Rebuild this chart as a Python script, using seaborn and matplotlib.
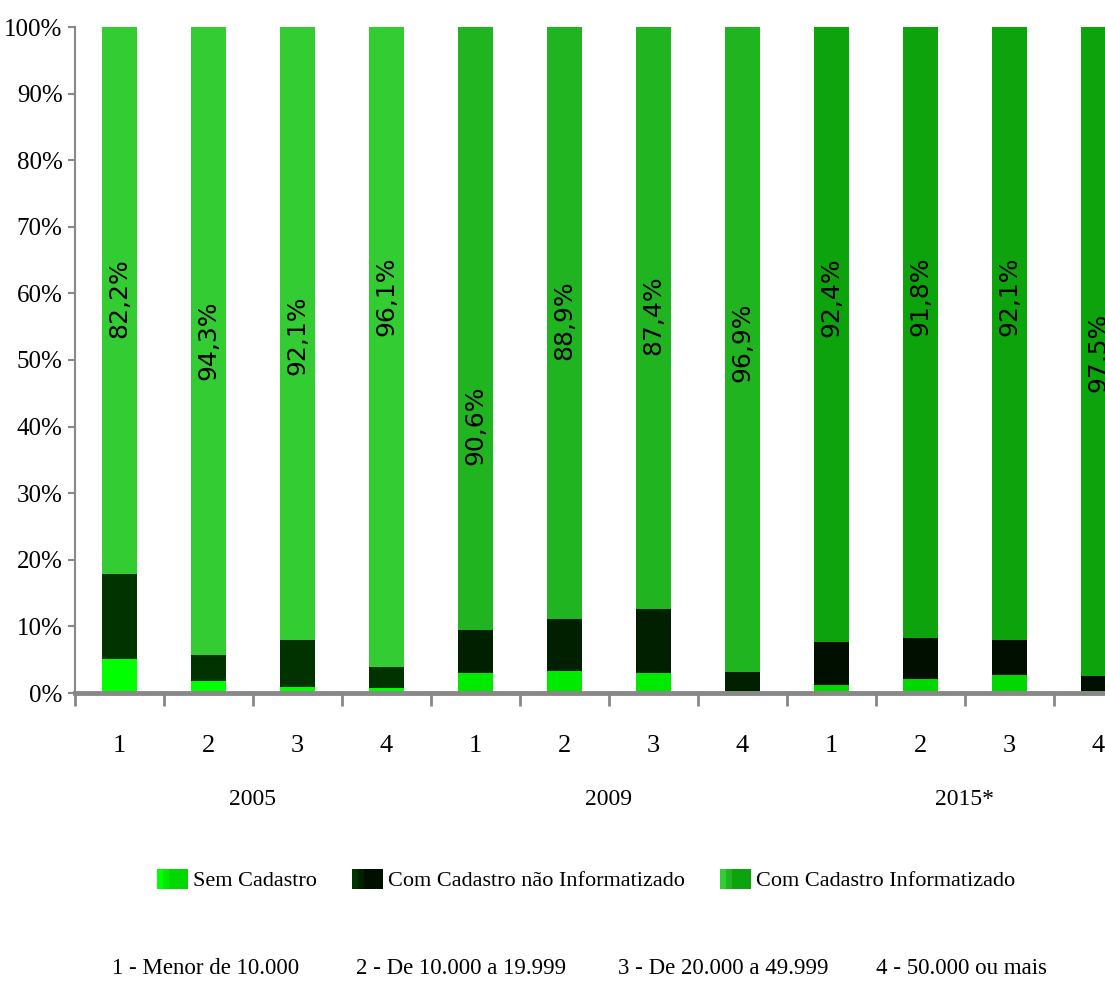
import matplotlib
matplotlib.use("Agg")
import matplotlib.pyplot as plt
import matplotlib.patches as mpatches
from matplotlib.legend_handler import HandlerTuple
import seaborn as sns
import pandas as pd
import numpy as np

# ---------------- data ----------------
years = ["2005", "2009", "2015*"]
classes = ["1", "2", "3", "4"]
class_legend = ["1 - Menor de 10.000", "2 - De 10.000 a 19.999",
                "3 - De 20.000 a 49.999", "4 - 50.000 ou mais"]
series_names = ["Sem Cadastro", "Com Cadastro não Informatizado", "Com Cadastro Informatizado"]

sem_cadastro = [5.1, 1.8, 0.9, 0.8, 3.0, 3.3, 3.0, 0.3, 1.2, 2.1, 2.7, 0.3]
nao_informatizado = [12.7, 3.9, 7.0, 3.1, 6.4, 7.8, 9.6, 2.8, 6.4, 6.1, 5.2, 2.2]
informatizado = [82.2, 94.3, 92.1, 96.1, 90.6, 88.9, 87.4, 96.9, 92.4, 91.8, 92.1, 97.5]

# label vertical centres (in % units) as placed in the original
label_y = [59.3, 53.0, 53.7, 59.5, 40.2, 56.0, 56.8, 52.7, 59.5, 59.5, 59.5, 51.2]

# ---------------- styling ----------------
col_sem = {"2005": "#00ff00", "2009": "#00ea00", "2015*": "#00d800"}
col_nao = {"2005": "#003300", "2009": "#002000", "2015*": "#000f00"}
col_inf = {"2005": "#33cc33", "2009": "#20b520", "2015*": "#0ca30c"}

sns.set_theme(style="white")
plt.rcParams["font.family"] = ["Liberation Serif", "DejaVu Serif"]
plt.rcParams["text.color"] = "black"
plt.rcParams["xtick.labelcolor"] = "black"
plt.rcParams["ytick.labelcolor"] = "black"

W, H = 1105, 984
fig = plt.figure(figsize=(W / 100, H / 100), dpi=100)
ax = fig.add_axes([75 / W, 1 - 693 / H, 1068 / W, 666 / H])

n = len(sem_cadastro)
year_col = [y for y in years for _ in classes]
pos = list(range(n))
df = pd.DataFrame({
    "pos": pos,
    "year": year_col,
    "sem": sem_cadastro,
    "nao": nao_informatizado,
    "inf": informatizado,
})
df["top1"] = df["sem"]
df["top2"] = df["sem"] + df["nao"]
df["top3"] = df["sem"] + df["nao"] + df["inf"]

bw = 0.39
for col, pal in [("top3", col_inf), ("top2", col_nao), ("top1", col_sem)]:
    sns.barplot(data=df, x="pos", y=col, hue="year", palette=pal, dodge=False,
                width=bw, linewidth=0, saturation=1, legend=False, ax=ax, zorder=2)

# value labels
for i, v in enumerate(informatizado):
    ax.text(i, label_y[i], f"{v:.1f}%".replace(".", ","), rotation=90,
            ha="center", va="center", fontsize=18, family="DejaVu Sans",
            color="black", zorder=5)

ax.set_xlim(-0.5, n - 0.5)
ax.set_ylim(0, 100)
ax.set_xlabel("")
ax.set_ylabel("")

yt = np.arange(0, 101, 10)
ax.set_yticks(yt)
ax.set_yticklabels([f"{t}%" for t in yt], fontsize=18)
ax.tick_params(axis="y", which="major", direction="out", length=5, width=1.5,
               color="#888888", pad=4, left=True, labelcolor="black")

ax.set_xticks(pos)
ax.set_xticklabels(classes * len(years), fontsize=19)
ax.tick_params(axis="x", which="major", length=0, pad=30, labelcolor="black")
ax.set_xticks(np.arange(-0.5, n, 1.0), minor=True)
ax.tick_params(axis="x", which="minor", direction="out", length=9, width=2,
               color="#888888", bottom=True)

for s in ["top", "right"]:
    ax.spines[s].set_visible(False)
ax.spines["left"].set_color("#888888")
ax.spines["left"].set_linewidth(1.5)
ax.spines["bottom"].set_color("#888888")
ax.spines["bottom"].set_linewidth(3.5)
ax.grid(False)

# year labels under each group
for g, y in enumerate(years):
    ax.text(g * 4 + 1.5, -0.16, y, transform=ax.get_xaxis_transform(),
            ha="center", va="center", fontsize=17, color="black", clip_on=False)

# legend with multi-shade swatches
handles = []
for pal in (col_sem, col_nao, col_inf):
    handles.append(tuple(mpatches.Patch(facecolor=pal[y], edgecolor="none") for y in years))
fig.legend(handles, series_names, loc="center", bbox_to_anchor=(586 / W, 1 - 880 / H),
           ncol=3, frameon=False, fontsize=16, handlelength=1.4, handleheight=1.0,
           handletextpad=0.2, columnspacing=1.6, labelcolor="black",
           handler_map={tuple: HandlerTuple(ndivide=None, pad=-0.6)})

# class legend line
for x0, txt in zip([112, 356, 618, 876], class_legend):
    fig.text(x0 / W, 1 - 968 / H, txt, ha="left", va="center", fontsize=16.5,
             color="black")

fig.savefig("out.png", dpi=100, facecolor="white")
